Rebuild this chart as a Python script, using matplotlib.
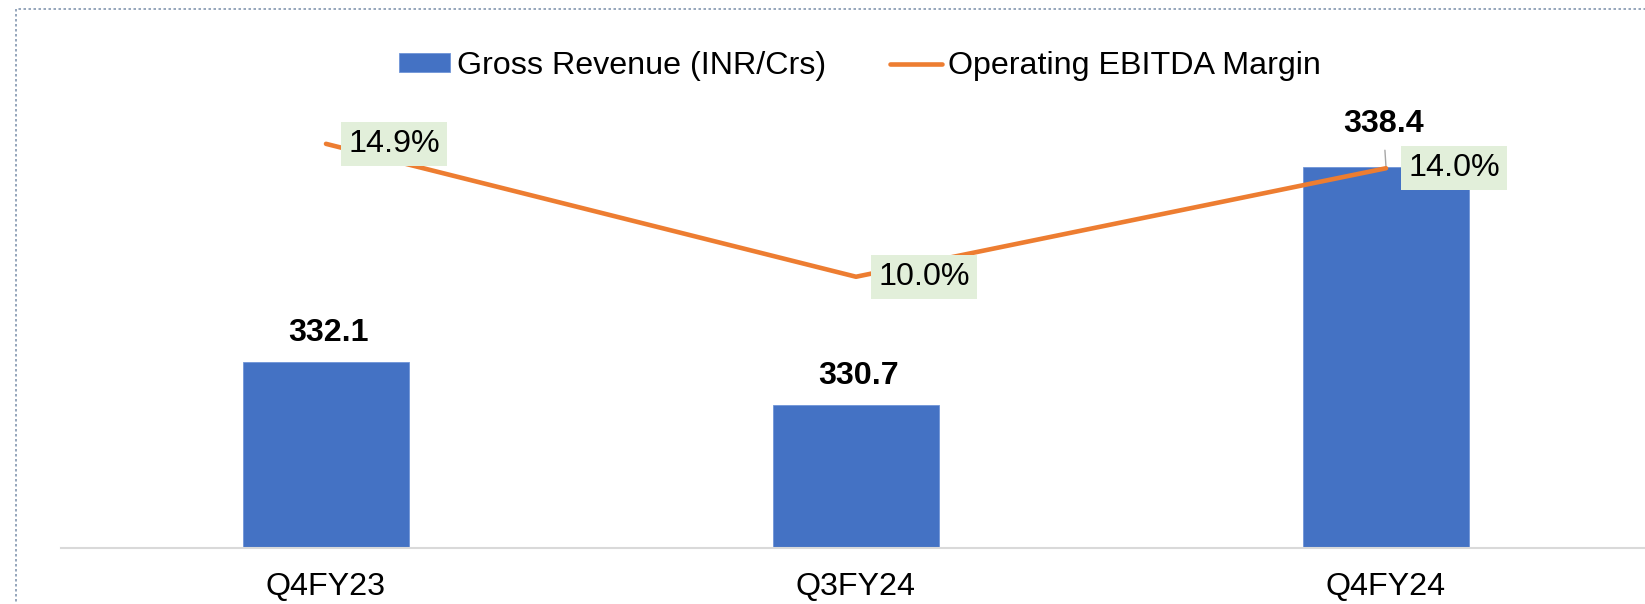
import matplotlib.pyplot as plt
from matplotlib.patches import Rectangle

# data
quarters = ["Q4FY23", "Q3FY24", "Q4FY24"]
revenue = [332.1, 330.7, 338.4]
margin = [14.9, 10.0, 14.0]

plt.rcParams['font.family'] = ['Liberation Sans', 'DejaVu Sans']
plt.rcParams['font.size'] = 23.2

W, H = 1645, 604
fig = plt.figure(figsize=(W / 100, H / 100), dpi=100)
ax = fig.add_axes([61 / W, 56 / H, 1590 / W, 434 / H])
ax2 = ax.twinx()

x = list(range(len(quarters)))
bars = ax.bar(x, revenue, width=0.313, color="#4472C4", edgecolor="#6F95D8", linewidth=0.6,
              label="Gross Revenue (INR/Crs)", zorder=2)
line, = ax2.plot(x, margin, color="#ED7D31", lw=3.3, solid_capstyle="round",
                 label="Operating EBITDA Margin", zorder=3)

ax.set_xlim(-0.5, 2.5)
ax.set_ylim(326.09, 340.11)
ax2.set_ylim(0, 16)

for a in (ax, ax2):
    for s in ("top", "right", "left"):
        a.spines[s].set_visible(False)
    a.set_yticks([])
ax2.spines["bottom"].set_visible(False)
ax.spines["bottom"].set_color("#D9D9D9")
ax.spines["bottom"].set_linewidth(1.5)
ax.set_xticks(x)
ax.set_xticklabels(quarters)
ax.tick_params(axis="x", length=0, pad=17)

# bar value labels
for i, v in enumerate(revenue):
    if i == 2:
        ax.annotate(f"{v:.1f}", xy=(i, v), xytext=(-2, 20), textcoords="offset points",
                    ha="center", va="bottom", fontweight="bold",
                    arrowprops=dict(arrowstyle="-", color="#A6A6A6", lw=1, shrinkA=6, shrinkB=0))
    else:
        ax.annotate(f"{v:.1f}", xy=(i, v), xytext=(2, 10), textcoords="offset points",
                    ha="center", va="bottom", fontweight="bold")

# margin labels
for i, m in enumerate(margin):
    ax2.annotate(f"{m:.1f}%", xy=(i, m), xytext=(16, 0), textcoords="offset points",
                 ha="left", va="center",
                 bbox=dict(boxstyle="square,pad=0.22", fc="#E2EFDA", ec="none"))

fig.legend(handles=[bars, line], loc="center", bbox_to_anchor=(860 / W, 1 - 66 / H),
           ncol=2, frameon=False, handlelength=1.6, handleheight=0.5, handletextpad=0.2,
           columnspacing=2.0, borderaxespad=0)

# dotted chart border
fig.add_artist(Rectangle((16 / W, -0.1), 1.2, 1 - 9 / H + 0.1, transform=fig.transFigure,
                         fill=False, ec="#8497B0", lw=1.2, ls=(0, (1.5, 1.5))))

fig.savefig("out.png", dpi=100)
plt.close(fig)
